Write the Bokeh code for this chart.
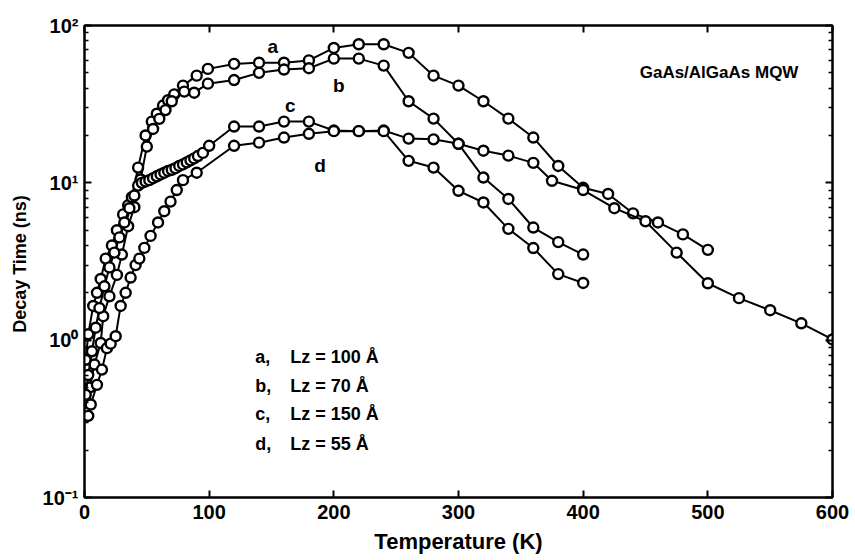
from bokeh.plotting import figure
from bokeh.models import FixedTicker, LinearAxis, LogAxis, Label
from bokeh.embed import file_html
from bokeh.resources import INLINE

# ---------------- data ----------------
a_T = [1, 3, 7, 10, 13, 17, 22, 26, 31, 35, 38, 43, 49, 54, 58, 63, 67, 72, 79, 90,
       99, 120, 140, 160, 180, 200, 220, 240, 260, 280, 300, 320, 340, 360, 380, 400,
       420, 440, 460, 480, 500]
a_v = [0.75, 1.09, 1.65, 2.0, 2.45, 3.3, 4.0, 5.0, 6.3, 7.2, 8.1, 12.5, 20.0, 24.5, 27.5,
       31.0, 33.5, 36.5, 41.5, 48.0, 53.0, 57.0, 58.0, 58.0, 60.0, 72.0, 76.0, 76.0, 67.0,
       48.0, 41.5, 33.0, 25.6, 19.4, 12.8, 9.3, 8.5, 6.4, 5.6, 4.7, 3.75]

b_T = [2, 4, 8, 13, 15, 20, 26, 30, 35, 40, 45, 50, 55, 60, 65, 70, 80, 88, 99, 120,
       140, 160, 180, 200, 220, 240, 260, 280, 300, 320, 340, 360, 380, 400]
b_v = [0.4, 0.5, 0.7, 0.96, 1.42, 1.9, 2.6, 3.5, 5.3, 7.0, 10.5, 17.0, 22.0, 25.5, 29.0,
       33.0, 38.0, 37.4, 42.7, 45.0, 50.0, 52.5, 53.5, 61.6, 61.6, 55.6, 33.0, 25.6, 17.7,
       10.8, 7.9, 5.2, 4.2, 3.5]

c_T = [1, 3, 6, 9, 12, 16, 20, 24, 28, 32, 36, 40, 43, 46, 49, 52, 55, 58, 61, 64,
       67, 70, 73, 76, 79, 82, 85, 88, 91, 95, 100, 120, 140, 160, 180, 200, 220, 240,
       260, 280, 300, 320, 340, 360, 375, 400, 425, 450, 475, 500, 525, 550, 575, 600]
c_v = [0.45, 0.6, 0.85, 1.2, 1.6, 2.2, 2.9, 3.6, 4.5, 5.6, 6.9, 8.3, 9.6, 10.0, 10.2,
       10.4, 10.7, 11.0, 11.3, 11.6, 11.9, 12.1, 12.4, 12.8, 13.1, 13.5, 13.9, 14.3, 14.8,
       15.5, 17.2, 22.8, 22.8, 24.5, 24.5, 21.5, 21.3, 21.5, 19.1, 18.9, 17.7, 16.0, 14.9,
       13.4, 10.3, 9.0, 6.9, 5.7, 3.6, 2.3, 1.85, 1.55, 1.28, 1.01]

d_T = [3, 5, 10, 14, 18, 21, 25, 29, 33, 37, 41, 44, 48, 53, 59, 64, 69, 74, 79, 90,
       120, 140, 160, 180, 200, 220, 240, 260, 280, 300, 320, 340, 360, 380, 400]
d_v = [0.33, 0.39, 0.52, 0.65, 0.89, 0.95, 1.06, 1.65, 2.0, 2.5, 3.0, 3.3, 3.86, 4.6,
       5.6, 6.6, 7.6, 9.0, 10.4, 11.6, 17.2, 18.0, 19.4, 20.5, 21.3, 21.3, 21.3, 13.8,
       12.5, 8.9, 7.5, 5.1, 3.85, 2.63, 2.31]

series_letters = ["a", "b", "c", "d"]
lz_labels = ["Lz = 100 \u00c5", "Lz = 70 \u00c5", "Lz = 150 \u00c5", "Lz = 55 \u00c5"]
x_ticks = [0, 100, 200, 300, 400, 500, 600]
y_ticks = [0.1, 1, 10, 100]
y_tick_labels = ["10\u207b\u00b9", "10\u2070", "10\u00b9", "10\u00b2"]
sample_text = "GaAs/AlGaAs MQW"
x_title = "Temperature (K)"
y_title = "Decay Time  (ns)"

# ---------------- figure ----------------
FONT = "Liberation Sans"
minor_y = [m * 10.0 ** e for e in (-1, 0, 1) for m in range(2, 10)]

p = figure(width=855, height=560, x_range=(0, 600), y_range=(0.1, 100),
           y_axis_type="log", output_backend="svg", toolbar_location=None,
           min_border_left=84, min_border_right=23, min_border_top=25,
           min_border_bottom=63, background_fill_color="white",
           border_fill_color="white")
p.grid.visible = False
p.outline_line_color = "black"
p.outline_line_width = 2

def style_axis(ax):
    ax.axis_line_color = "black"
    ax.axis_line_width = 2
    ax.major_tick_line_color = "black"
    ax.major_tick_line_width = 2
    ax.major_tick_in = 7
    ax.major_tick_out = 0
    ax.minor_tick_line_color = "black"
    ax.minor_tick_line_width = 1.5
    ax.minor_tick_in = 4
    ax.minor_tick_out = 0
    ax.major_label_text_font = FONT
    ax.major_label_text_font_style = "bold"
    ax.major_label_text_font_size = "20px"
    ax.major_label_text_color = "black"
    ax.axis_label_text_font = FONT
    ax.axis_label_text_font_style = "bold"
    ax.axis_label_text_color = "black"

# bottom axis
xa = p.xaxis[0]
xa.ticker = FixedTicker(ticks=x_ticks)
style_axis(xa)
xa.minor_tick_line_color = None
xa.major_label_standoff = 7
xa.axis_label = x_title
xa.axis_label_text_font_size = "22px"
xa.axis_label_standoff = 7

# left axis
ya = p.yaxis[0]
ya.ticker = FixedTicker(ticks=y_ticks, minor_ticks=minor_y)
style_axis(ya)
ya.major_label_overrides = {t: lab for t, lab in zip(y_ticks, y_tick_labels)}
ya.major_label_standoff = 6
ya.axis_label = y_title
ya.axis_label_text_font_size = "18px"
ya.axis_label_standoff = 10

# top & right axes (ticks only, empty labels)
top = LinearAxis(ticker=FixedTicker(ticks=x_ticks))
style_axis(top)
top.minor_tick_line_color = None
top.major_label_overrides = {t: "" for t in x_ticks}
top.major_label_standoff = 0
p.add_layout(top, "above")

right = LogAxis(ticker=FixedTicker(ticks=y_ticks, minor_ticks=minor_y))
style_axis(right)
right.major_label_overrides = {t: "" for t in y_ticks}
right.major_label_standoff = 0
p.add_layout(right, "right")

# ---------------- series ----------------
for T, v in ((a_T, a_v), (b_T, b_v), (c_T, c_v), (d_T, d_v)):
    p.line(T, v, line_color="black", line_width=2)
    p.scatter(T, v, marker="circle", size=10, line_color="black", line_width=2.4,
              fill_color="white")

# ---------------- annotations ----------------
def add_label(x, y, text, size, align="center"):
    p.add_layout(Label(x=x, y=y, text=text, text_font=FONT, text_font_style="bold",
                       text_font_size=size, text_color="black", text_align=align,
                       text_baseline="middle"))

# curve letters
curve_label_pos = [(151, 74), (204, 41.5), (165, 31), (189, 12.8)]
for letter, (x, y) in zip(series_letters, curve_label_pos):
    add_label(x, y, letter, "19px")

# sample name
add_label(509, 50, sample_text, "17px")

# legend block
legend_rows_y = [0.78, 0.51, 0.338, 0.22]
for letter, lz, y in zip(series_letters, lz_labels, legend_rows_y):
    add_label(137, y, letter + ",", "18px", align="left")
    add_label(165, y, lz, "18px", align="left")

open("out.html", "w").write(file_html(p, INLINE))
